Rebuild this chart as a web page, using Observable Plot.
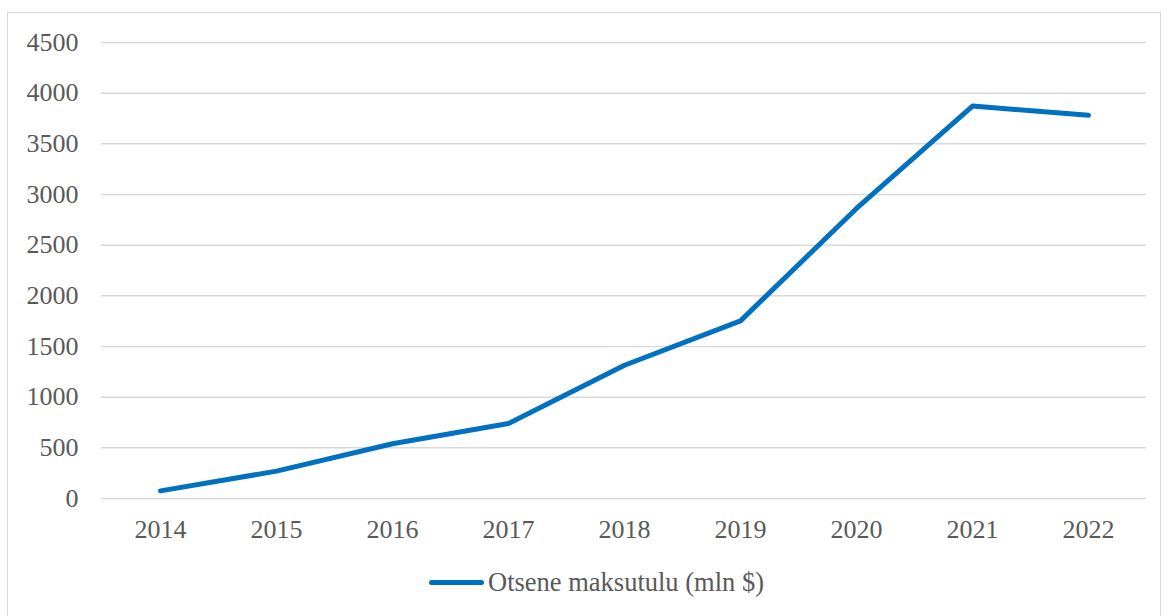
<!DOCTYPE html>
<html>
<head>
<meta charset="utf-8">
<script src="https://cdn.jsdelivr.net/npm/d3@7"></script>
<script src="https://cdn.jsdelivr.net/npm/@observablehq/plot@0.6"></script>
<style>
  html, body { margin: 0; padding: 0; background: #fff; }
  #wrap { position: relative; width: 1169px; height: 616px; overflow: hidden; font-family: "Liberation Serif", "Times New Roman", serif; }
  #frame { position: absolute; left: 7px; top: 12px; width: 1154px; height: 620px; border: 1.5px solid #d9d9d9; box-sizing: border-box; }
  #chart { position: absolute; left: 0; top: 0; }
  #legend { position: absolute; left: 429px; top: 567px; display: flex; align-items: center; font-size: 26.5px; color: #595959; }
  #legend .sw { width: 55px; height: 5px; background: #0070C0; border-radius: 3px; margin-right: 4px; }
</style>
</head>
<body>
<div id="wrap">
  <div id="frame"></div>
  <div id="chart"></div>
  <div id="legend"><span class="sw"></span><span id="legtext"></span></div>
</div>
<script>
const years = ["2014","2015","2016","2017","2018","2019","2020","2021","2022"];
const values = [75, 270, 540, 740, 1315, 1753, 2862, 3873, 3781];
const yTicks = [0, 500, 1000, 1500, 2000, 2500, 3000, 3500, 4000, 4500];
const seriesName = "Otsene maksutulu (mln $)";

const data = years.map((y, i) => ({year: y, value: values[i]}));

const chart = Plot.plot({
  width: 1169,
  height: 560,
  marginLeft: 101,
  marginRight: 23,
  marginTop: 42,
  marginBottom: 62,
  style: {fontFamily: "'Liberation Serif', 'Times New Roman', serif", fontSize: "26px", color: "#595959", background: "transparent", overflow: "visible"},
  x: {type: "point", domain: years, padding: 0.5, align: 0.5, label: null},
  y: {domain: [0, 4500], label: null},
  marks: [
    Plot.ruleY(yTicks, {stroke: "#d9d9d9", strokeWidth: 1.5, strokeOpacity: 1}),
    Plot.axisY(yTicks, {tickSize: 0, tickPadding: 23, label: null, fill: "#595959", fontSize: 26, fontFamily: "Liberation Serif", tickFormat: d => String(d)}),
    Plot.axisX(years, {tickSize: 0, tickPadding: 21, label: null, fill: "#595959", fontSize: 26, fontFamily: "Liberation Serif"}),
    Plot.line(data, {x: "year", y: "value", stroke: "#0070C0", strokeWidth: 5, strokeLinecap: "round", strokeLinejoin: "round"})
  ]
});
document.getElementById("chart").appendChild(chart);
document.getElementById("legtext").textContent = seriesName;
</script>
</body>
</html>
